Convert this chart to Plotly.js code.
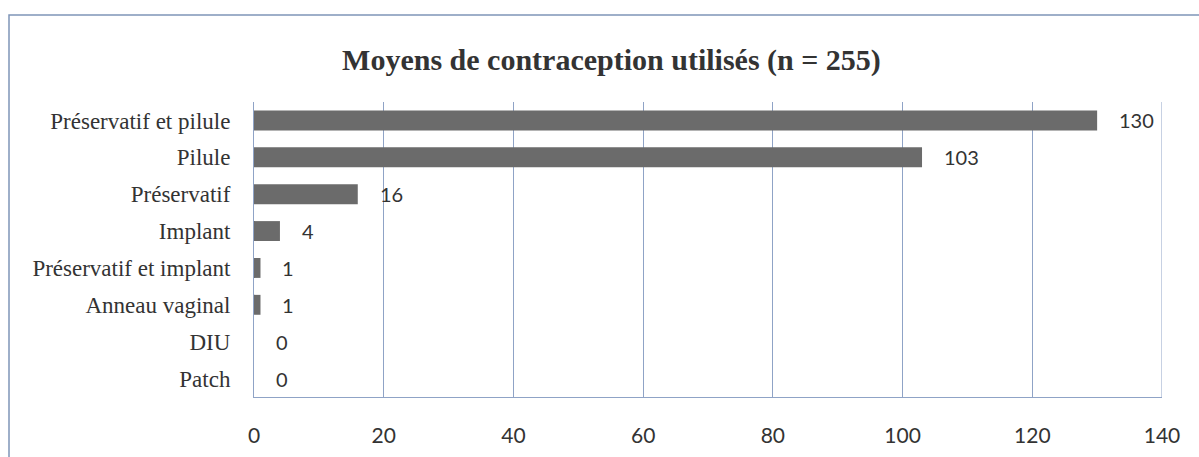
<!DOCTYPE html>
<html>
<head>
<meta charset="utf-8">
<script src="https://cdn.plot.ly/plotly-3.0.1.min.js"></script>
<style>
  html, body { margin: 0; padding: 0; background: #ffffff; }
  #chart { width: 1199px; height: 457px; }
</style>
</head>
<body>
<div id="chart"></div>
<script>
const categories = [
  "Préservatif et pilule",
  "Pilule",
  "Préservatif",
  "Implant",
  "Préservatif et implant",
  "Anneau vaginal",
  "DIU",
  "Patch"
];
const counts = [130, 103, 16, 4, 1, 1, 0, 0];
const tickValues = [0, 20, 40, 60, 80, 100, 120, 140];
const chartTitle = "Moyens de contraception utilisés (n = 255)";

const gridColor = "#8fa3c6";
const barColor = "#6b6b6b";
const textColor = "#333333";

const trace = {
  type: "bar",
  orientation: "h",
  y: categories,
  x: counts,
  marker: { color: barColor, line: { width: 0 } },
  hoverinfo: "skip"
};

const labelAnnotations = categories.map((c, i) => ({
  x: counts[i],
  y: c,
  xref: "x",
  yref: "y",
  text: String(counts[i]),
  showarrow: false,
  xanchor: "left",
  yanchor: "middle",
  xshift: 20,
  font: { family: "Lato, 'Open Sans', sans-serif", size: 20, color: textColor }
}));

const layout = {
  width: 1199,
  height: 457,
  paper_bgcolor: "#ffffff",
  plot_bgcolor: "#ffffff",
  margin: { l: 254, r: 37, t: 102, b: 60, pad: 0 },
  showlegend: false,
  bargap: 0.46,
  title: {
    text: "<b>" + chartTitle + "</b>",
    font: { family: "'Liberation Serif', 'Times New Roman', serif", size: 30, color: textColor },
    xref: "container",
    yref: "container",
    x: 0.51,
    y: 0.869,
    xanchor: "center",
    yanchor: "middle"
  },
  xaxis: {
    range: [0, 140],
    tickvals: tickValues,
    ticktext: tickValues.map(String),
    showgrid: true,
    gridcolor: gridColor,
    gridwidth: 1,
    showline: true,
    linecolor: gridColor,
    linewidth: 1,
    zeroline: false,
    ticks: "",
    ticklabelstandoff: 20,
    tickfont: { family: "Lato, 'Open Sans', sans-serif", size: 21, color: textColor },
    fixedrange: true
  },
  yaxis: {
    type: "category",
    autorange: "reversed",
    showgrid: false,
    showline: true,
    linecolor: gridColor,
    linewidth: 1,
    zeroline: false,
    ticks: "",
    ticklabelstandoff: 18,
    tickfont: { family: "'Liberation Serif', 'Times New Roman', serif", size: 23, color: textColor },
    fixedrange: true
  },
  annotations: labelAnnotations,
  shapes: [
    {
      type: "line",
      xref: "x",
      yref: "paper",
      x0: tickValues[tickValues.length - 1],
      x1: tickValues[tickValues.length - 1],
      y0: 0,
      y1: 1,
      line: { color: gridColor, width: 1 },
      layer: "above"
    },
    {
      type: "rect",
      xref: "paper",
      yref: "paper",
      x0: (9 - 254) / 908,
      x1: (1260 - 254) / 908,
      y0: -0.4,
      y1: (397 - 15) / 295,
      line: { color: "#7f95b8", width: 1.5 },
      fillcolor: "rgba(0,0,0,0)",
      layer: "below"
    }
  ]
};

Plotly.newPlot("chart", [trace], layout, { displayModeBar: false, staticPlot: true });
</script>
</body>
</html>
